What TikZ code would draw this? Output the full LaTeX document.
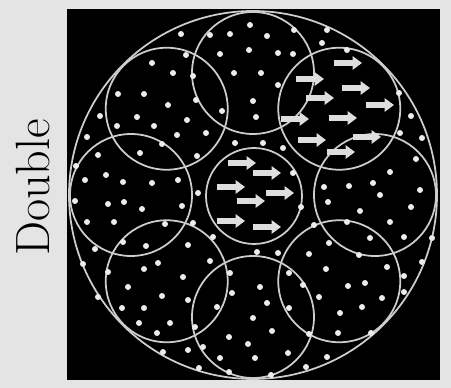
\documentclass[tikz,border=0pt]{standalone}
\usepackage{tikz}
\usetikzlibrary{arrows.meta}
\definecolor{pagegray}{RGB}{228,228,228}
\definecolor{ringgray}{RGB}{205,205,205}
\definecolor{speckgray}{RGB}{236,236,236}
\definecolor{arrowgray}{RGB}{222,222,222}

\begin{document}
\begin{tikzpicture}[x=0.02cm, y=-0.02cm,
  ring/.style={draw=ringgray, line width=1pt},
  speck/.style={fill=speckgray},
  flowarrow/.style={draw=arrowgray, line width=3.9pt, -{Triangle[length=5.4pt, width=7.6pt]}}]
  \useasboundingbox (0,0) rectangle (451,388);
  \fill[pagegray] (0,0) rectangle (451,388);
  \fill[black] (67,9) rectangle (440,380);
  % label
  \node[rotate=90, inner sep=0, font=\fontsize{27.4}{30}\selectfont] (title) at (33,187.5) {Double};
  % rings
  \draw[ring] (253,195) circle (184);
  \draw[ring] (254,196) circle (48);
  \foreach \a in {0,45,...,315}
    \draw[ring] (253,195) ++(\a:122) circle (61);
  % particles
  \foreach \p in {(181,34),(210,35),(230,34),(250,25),(267,36),(294,30),(327,30),(322,43),(347,50),
    (186,55),(220,54),(249,50),(278,53),(293,54),
    (152,63),(173,73),(193,76),(234,73),(261,73),(278,85),
    (118,94),(144,94),(168,105),(196,100),(253,101),(222,111),(256,117),
    (100,116),(137,117),(117,126),(154,126),(187,120),
    (87,137),(177,135),(206,133),(235,143),(263,143),(283,148),(162,144),
    (140,153),(197,156),(98,155),
    (399,93),(411,116),(400,133),(422,138),(416,159),(390,172),
    (76,166),(106,175),(123,182),(152,183),(178,180),(85,180),
    (293,173),(349,186),(373,183),(324,187),(420,190),
    (198,193),(380,195),
    (75,201),(108,204),(124,202),(142,209),(182,206),(301,207),(328,202),(360,211),(411,207),
    (87,222),(114,222),(165,224),(193,223),(314,225),(347,222),(390,222),
    (213,237),(123,242),(146,246),(95,249),(188,245),(370,238),(404,237),(432,238),(329,243),
    (257,252),(278,253),(309,254),(359,255),(422,262),
    (83,264),(108,272),(158,263),(144,269),(210,261),(230,273),(183,277),(289,273),(326,269),(387,267),
    (128,287),(260,287),(303,285),(348,286),(365,283),(404,276),
    (98,297),(162,296),(188,300),(232,293),(319,297),(382,298),(404,292),
    (122,308),(144,308),(217,307),(267,303),(289,308),(362,307),(340,313),
    (139,323),(170,323),(195,327),(253,318),
    (157,333),(229,337),(248,344),(272,331),(309,334),(338,333),(371,333),
    (203,347),(163,352),(188,350),(220,358),(255,358),(288,353),(327,357),
    (199,368),(229,372),(271,375),(306,367)}
    \fill[speck] \p circle (3);
  % flow arrows
  \foreach \x/\y in {334/63,296/79,342/88,306/98,366/105,281/119,329/118,353/137,298/140,327/152,
    228/163,253/173,217/187,266/193,237/201,217/221,253/227}
    \draw[flowarrow] (\x,\y) -- ++(28,0);
\end{tikzpicture}
\end{document}
